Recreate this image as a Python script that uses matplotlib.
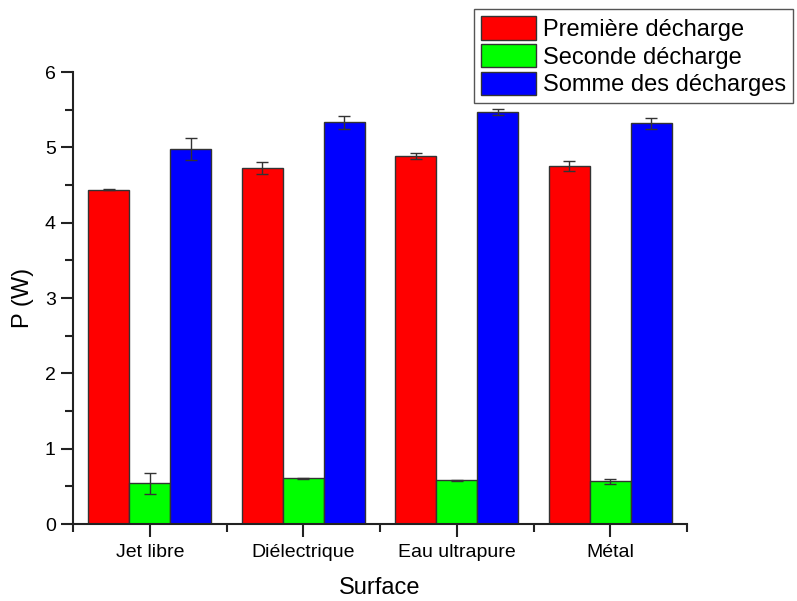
import matplotlib
matplotlib.use("Agg")
import matplotlib.pyplot as plt
import numpy as np
from matplotlib.ticker import MultipleLocator

plt.rcParams['font.family'] = ['Liberation Sans', 'DejaVu Sans']

surfaces = ["Jet libre", "Diélectrique", "Eau ultrapure", "Métal"]
series = ["Première décharge", "Seconde décharge", "Somme des décharges"]
premiere = [4.44, 4.73, 4.89, 4.75]
premiere_err = [0.01, 0.08, 0.04, 0.065]
seconde = [0.54, 0.607, 0.58, 0.567]
seconde_err = [0.144, 0.01, 0.01, 0.035]
somme = [4.98, 5.337, 5.47, 5.32]
somme_err = [0.144, 0.086, 0.045, 0.077]
colors = ["#ff0000", "#00ff00", "#0000ff"]

fig = plt.figure(figsize=(7.97, 6.01), dpi=100)
ax = fig.add_axes([0.0916, 0.128, 0.862 - 0.0916, 0.880 - 0.128])

x = np.arange(len(surfaces))
w = 0.267
vals = [premiere, seconde, somme]
errs = [premiere_err, seconde_err, somme_err]
for i in range(3):
    ax.bar(x + (i - 1) * w, vals[i], w, color=colors[i], edgecolor="#333333",
           linewidth=1.0, label=series[i], zorder=2)
    ax.errorbar(x + (i - 1) * w, vals[i], yerr=errs[i], fmt="none",
                ecolor="#333333", elinewidth=1.0, capsize=4, capthick=1.0, zorder=3)

ax.set_xlim(-0.5, 3.5)
ax.set_ylim(0, 6)
ax.set_xticks(x)
ax.set_xticklabels(surfaces, fontsize=14)
ax.xaxis.set_minor_locator(matplotlib.ticker.FixedLocator([-0.5, 0.5, 1.5, 2.5, 3.5]))
ax.yaxis.set_major_locator(MultipleLocator(1))
ax.yaxis.set_minor_locator(MultipleLocator(0.5))
ax.tick_params(axis="y", labelsize=14)
ax.tick_params(which="major", length=9, width=1.5, direction="out", color="#222222")
ax.tick_params(which="minor", length=6, width=1.5, direction="out", color="#222222")
ax.tick_params(axis="x", which="major", pad=5)

for s in ["top", "right"]:
    ax.spines[s].set_visible(False)
for s in ["left", "bottom"]:
    ax.spines[s].set_linewidth(1.5)
    ax.spines[s].set_color("#222222")

ax.set_xlabel("Surface", fontsize=17, labelpad=12)
ax.set_ylabel("P (W)", fontsize=17, labelpad=8)

fig.legend(loc="upper left", bbox_to_anchor=(0.595, 0.985), fontsize=17,
           frameon=True, fancybox=False, edgecolor="#555555", framealpha=1,
           handlelength=2.3, handleheight=1.15, labelspacing=0.13,
           handletextpad=0.3, borderpad=0.3, borderaxespad=0)

fig.savefig("out.png", dpi=100)
